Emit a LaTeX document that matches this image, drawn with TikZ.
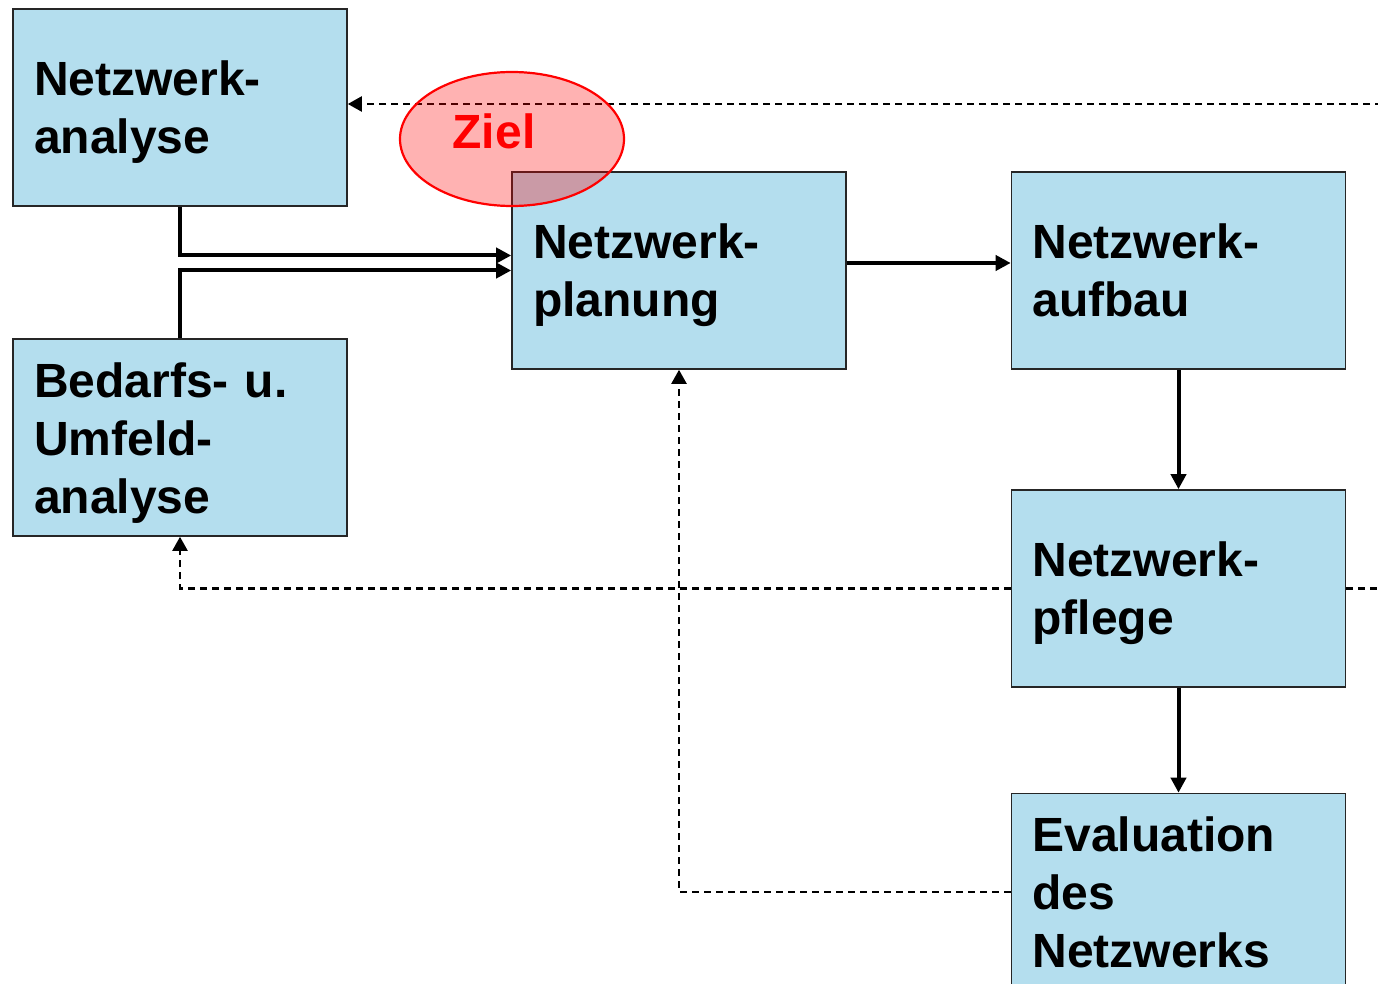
\documentclass[tikz,border=0pt]{standalone}
\usepackage{fontspec}
\setmainfont{Liberation Sans}
\usetikzlibrary{shapes.geometric,arrows.meta,calc}
\definecolor{boxblue}{RGB}{180,222,238}
\newcommand{\topstrut}{\rule{0pt}{45pt}}
\newcommand{\botstrut}{\rule[-10pt]{0pt}{10pt}}
\begin{document}
\begin{tikzpicture}[x=1pt,y=-1pt,
  stepbox/.style={draw=black!85,line width=1.6pt,fill=boxblue,minimum width=334pt,minimum height=197pt,
    text width=292pt,inner xsep=21pt,inner ysep=0pt,align=left,
    font=\fontsize{48}{58}\selectfont\bfseries},
  solidarrow/.style={line width=4pt,-{Triangle[length=15pt,width=15pt]}},
  dasharrow/.style={line width=2.2pt,dash pattern=on 7pt off 5pt,-{Triangle[length=14pt,width=15pt]}},
  dashline/.style={line width=2.2pt,dash pattern=on 7pt off 5pt},
  zielell/.style={ellipse,draw=red,line width=2.2pt,fill=red,fill opacity=0.3,minimum width=224pt,minimum height=134pt},
  zieltext/.style={text=red,font=\fontsize{48}{58}\selectfont\bfseries}
]
\clip (0,0) rectangle (1378,984);
\fill[white] (0,0) rectangle (1378,984);
\node[stepbox] (NA) at (180,107.5) {\topstrut Netzwerk-\\analyse\botstrut};
\node[stepbox] (BU) at (180,437.5) {\topstrut Bedarfs- u.\\Umfeld-\\analyse\botstrut};
\node[stepbox] (NP) at (679,270.5) {\topstrut Netzwerk-\\planung\botstrut};
\node[stepbox] (AU) at (1178.5,270.5) {\topstrut Netzwerk-\\aufbau\botstrut};
\node[stepbox] (PF) at (1178.5,588.5) {\topstrut Netzwerk-\\pflege\botstrut};
\node[stepbox] (EV) at (1178.5,892) {\topstrut Evaluation\\des\\Netzwerks\botstrut};
\coordinate (r1) at (1382,104);
\coordinate (r2) at (1382,588.5);
% solid connectors
\draw[solidarrow] (NA.south) |- ($(NP.west)+(0,-15)$);
\draw[solidarrow] (BU.north) |- (NP.west);
\draw[solidarrow] ($(NP.east)+(0,-7.5)$) -- ($(AU.west)+(0,-7.5)$);
\draw[solidarrow] (AU.south) -- (PF.north);
\draw[solidarrow] (PF.south) -- (EV.north);
% dashed connectors
\draw[dasharrow] (r1) -- (NA.east |- r1);
\draw[dasharrow] (PF.west) -| (BU.south);
\draw[dashline] (PF.east) -- (r2);
\draw[dasharrow] (EV.west) -| (NP.south);
% goal
\node[zielell] (Z) at (512,139) {};
\node[zieltext] (ZT) at (494,131) {Ziel};
\end{tikzpicture}
\end{document}
